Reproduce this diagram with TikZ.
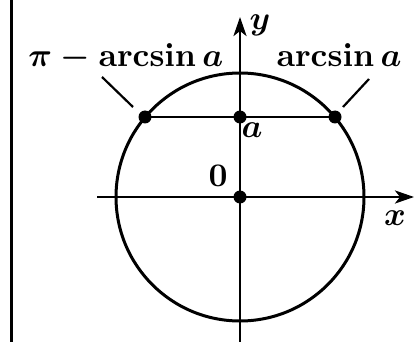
\documentclass[tikz,border=0pt]{standalone}
\usetikzlibrary{arrows.meta}
\begin{document}
\begin{tikzpicture}[x=1pt,y=-1pt,
  lbl/.style={font=\boldmath, inner sep=0pt, scale=3.3},
  dot/.style={circle, fill=black, inner sep=0pt, minimum size=13pt},
  axis/.style={line width=2.8pt, -{Stealth[length=19pt,width=13pt,inset=5pt]}},
  thin/.style={line width=2.2pt},
  thick/.style={line width=3pt}]
\useasboundingbox (0,0) rectangle (415,342);
% left border
\coordinate (b1) at (11,0);
\coordinate (b2) at (11,342);
\draw[line width=3pt] (b1) -- (b2);
% circle
\coordinate (O) at (240,197);
\draw[thick] (O) circle[radius=124pt];
% axes
\coordinate (xs) at (97,197);
\coordinate (xe) at (414,197);
\coordinate (ys) at (240,342);
\coordinate (ye) at (240,17);
\draw[axis] (xs) -- (xe);
\draw[axis] (ys) -- (ye);
% chord
\coordinate (P1) at (145,117);
\coordinate (P2) at (335,117);
\coordinate (A) at (240,117);
\draw[thin] (P1) -- (P2);
% dots
\node[dot] (dO) at (O) {};
\node[dot] (dA) at (A) {};
\node[dot] (d1) at (P1) {};
\node[dot] (d2) at (P2) {};
% leader lines
\coordinate (l1a) at (102,77);
\coordinate (l1b) at (133,107);
\coordinate (l2a) at (369,79);
\coordinate (l2b) at (343,107);
\draw[thin] (l1a) -- (l1b);
\draw[thin] (l2a) -- (l2b);
% labels
\node[lbl, anchor=base east] (t1) at (224,67) {$\pi-\arcsin a$};
\node[lbl, anchor=base west] (t2) at (276,67) {$\arcsin a$};
\node[lbl, anchor=base] (ty) at (260,30) {$y$};
\node[lbl, anchor=base] (tx) at (395,225) {$x$};
\node[lbl, anchor=base] (t0) at (218,186) {$0$};
\node[lbl, anchor=base] (ta) at (252,138) {$a$};
\end{tikzpicture}
\end{document}
